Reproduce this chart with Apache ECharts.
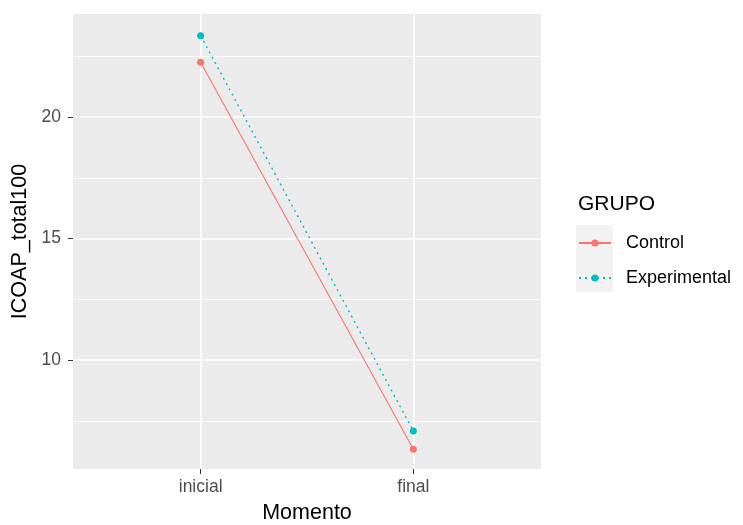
<!DOCTYPE html>
<html><head><meta charset="utf-8">
<script src="https://cdn.jsdelivr.net/npm/echarts@6/dist/echarts.min.js"></script>
<style>html,body{margin:0;padding:0;background:#fff}#c{width:743px;height:525px}</style>
</head><body><div id="c"></div>
<script>
const categories = ['inicial', 'final'];
const catPos = [1, 2];
const controlValues = [22.25, 6.34];
const experimentalValues = [23.34, 7.09];
const yTicks = [10, 15, 20];
const yMinor = [7.5, 12.5, 17.5, 22.5];
const yRange = [5.53, 24.23];
const xRange = [0.4, 2.6];

const font = 'Arial, "Liberation Sans", sans-serif';
const chart = echarts.init(document.getElementById('c'), null, {renderer: 'canvas'});

const gridLines = [];
yTicks.forEach(v => gridLines.push({yAxis: v, lineStyle: {color: '#fff', width: 1.6, type: 'solid'}}));
yMinor.forEach(v => gridLines.push({yAxis: v, lineStyle: {color: '#fff', width: 0.8, type: 'solid'}}));
catPos.forEach(v => gridLines.push({xAxis: v, lineStyle: {color: '#fff', width: 1.6, type: 'solid'}}));

chart.setOption({
  animation: false,
  grid: {left: 73, right: 202, top: 14, bottom: 56, show: true, backgroundColor: '#EBEBEB', borderWidth: 0,
    containLabel: false, outerBoundsMode: 'none'},
  xAxis: {
    type: 'value', min: xRange[0], max: xRange[1],
    name: 'Momento', nameLocation: 'middle', nameGap: 33,
    nameTextStyle: {fontFamily: font, fontSize: 21.5, color: '#000'},
    axisLine: {show: false},
    axisTick: {show: true, customValues: catPos, length: 5, lineStyle: {color: '#333', width: 1}},
    axisLabel: {customValues: catPos, formatter: v => categories[catPos.indexOf(v)] || '', fontFamily: font, fontSize: 17.5, color: '#4D4D4D', margin: 9},
    splitLine: {show: false}
  },
  yAxis: {
    type: 'value', min: yRange[0], max: yRange[1],
    name: 'ICOAP_total100', nameLocation: 'middle', nameGap: 40, nameRotate: 90,
    nameTextStyle: {fontFamily: font, fontSize: 21.5, color: '#000'},
    axisLine: {show: false},
    axisTick: {show: true, customValues: yTicks, length: 5, lineStyle: {color: '#333', width: 1}},
    axisLabel: {customValues: yTicks, fontFamily: font, fontSize: 17.5, color: '#4D4D4D', margin: 12},
    splitLine: {show: false}
  },
  legend: {
    orient: 'vertical', left: 578, top: 234, padding: 0, itemWidth: 32, itemHeight: 9, itemGap: 17,
    textStyle: {fontFamily: font, fontSize: 18, lineHeight: 18, color: '#000', padding: [0, 0, 0, 10]},
    data: ['Control', 'Experimental']
  },
  graphic: [
    {type: 'rect', left: 576, top: 225, shape: {width: 37, height: 67}, style: {fill: '#F2F2F2'}, z: 0},
    {type: 'text', left: 578, top: 194, style: {text: 'GRUPO', font: '21px ' + font, fill: '#000'}}
  ],
  series: [
    {type: 'line', name: '_grid', data: [], z: 1, silent: true,
      markLine: {silent: true, z: 1, symbol: 'none', label: {show: false}, data: gridLines, animation: false}},
    {type: 'line', name: 'Control', data: catPos.map((x, i) => [x, controlValues[i]]),
      symbol: 'circle', symbolSize: 7, itemStyle: {color: '#F8766D'}, lineStyle: {color: '#F8766D', width: 1.1, type: 'solid'}, z: 3},
    {type: 'line', name: 'Experimental', data: catPos.map((x, i) => [x, experimentalValues[i]]),
      symbol: 'circle', symbolSize: 7, itemStyle: {color: '#00BFC4'}, lineStyle: {color: '#00BFC4', width: 1.4, type: [2, 4]}, z: 3}
  ]
});
</script></body></html>
